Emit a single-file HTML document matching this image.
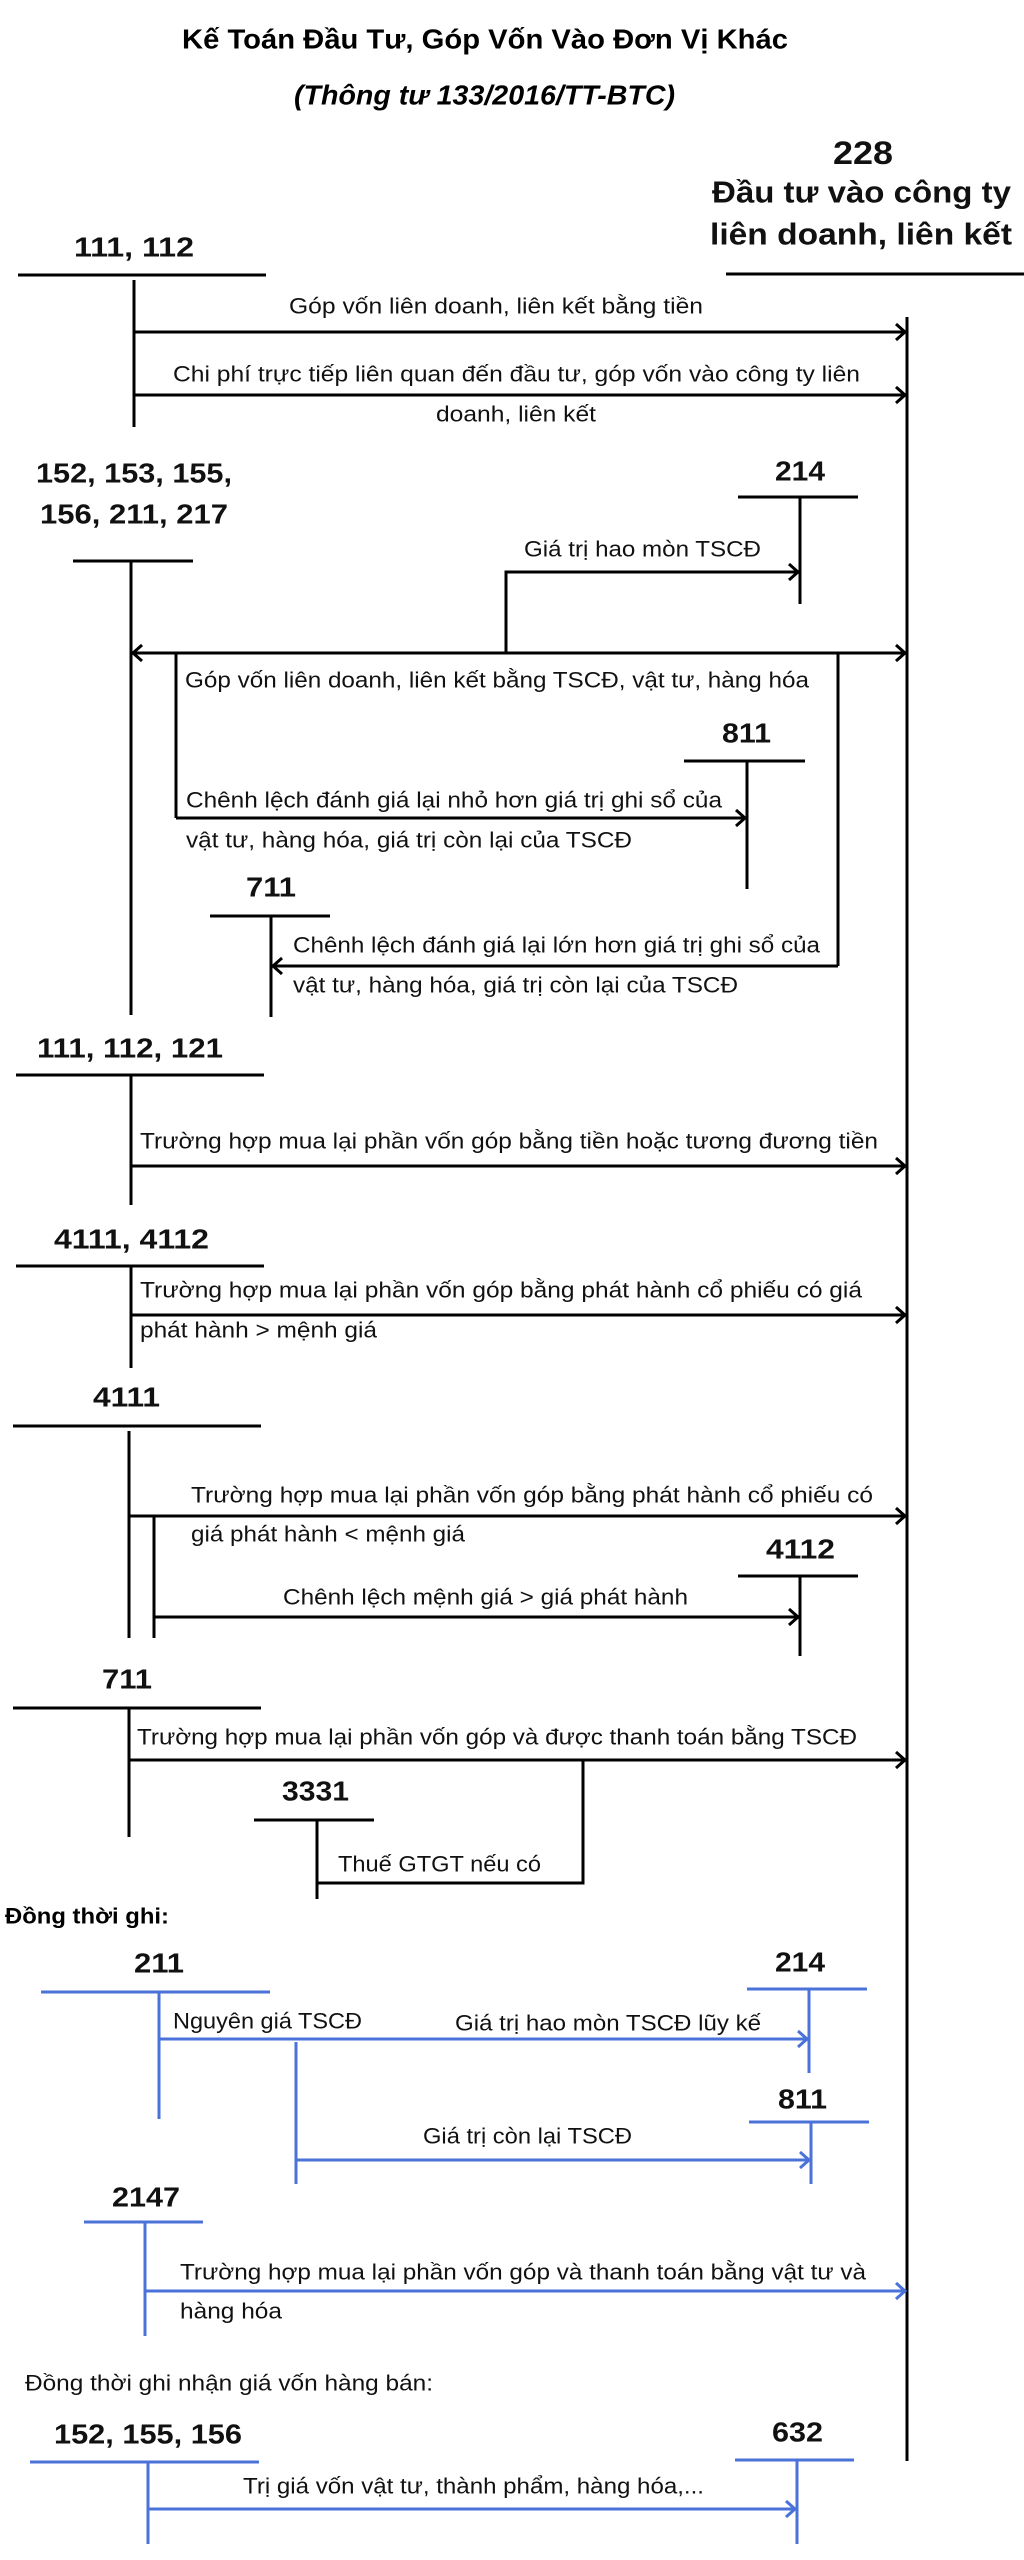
<!DOCTYPE html>
<html><head><meta charset="utf-8"><style>
html,body{margin:0;padding:0;background:#fff;}
svg{display:block;}
text{font-family:"Liberation Sans","DejaVu Sans",sans-serif;dominant-baseline:central;}
.t{font-size:22px;fill:#111;}
.b{font-size:28px;font-weight:bold;fill:#111;}
.k line,.k polyline,.k path{stroke:#000;stroke-width:3;fill:none;}
.u line,.u polyline{stroke:#4a72d9;stroke-width:3;fill:none;}
</style></head><body>
<svg width="1024" height="2560" viewBox="0 0 1024 2560" xmlns="http://www.w3.org/2000/svg">
<text x="182" y="39" textLength="606" lengthAdjust="spacingAndGlyphs" style="font-size:28px;font-weight:bold">Kế Toán Đầu Tư, Góp Vốn Vào Đơn Vị Khác</text>
<text x="294" y="95" textLength="381" lengthAdjust="spacingAndGlyphs" style="font-size:28px;font-weight:bold;font-style:italic">(Thông tư 133/2016/TT-BTC)</text>
<text class="b" x="833" y="153" textLength="60" lengthAdjust="spacingAndGlyphs" style="font-size:32px">228</text>
<text class="b" x="712" y="192" textLength="299" lengthAdjust="spacingAndGlyphs" style="font-size:31px">Đầu tư vào công ty</text>
<text class="b" x="710" y="234" textLength="302" lengthAdjust="spacingAndGlyphs" style="font-size:31px">liên doanh, liên kết</text>

<g class="k">
<line x1="726" y1="274" x2="1024" y2="274"/>
<line x1="907" y1="317" x2="907" y2="2461"/>
<line x1="18" y1="275" x2="266" y2="275"/>
<line x1="134" y1="280" x2="134" y2="427"/>
<line x1="134" y1="332" x2="905" y2="332"/><polyline points="896,324 905,332 896,340"/>
<line x1="134" y1="395" x2="905" y2="395"/><polyline points="896,387 905,395 896,403"/>
<line x1="73" y1="561" x2="193" y2="561"/>
<line x1="131" y1="561" x2="131" y2="1015"/>
<line x1="738" y1="497" x2="858" y2="497"/>
<line x1="800" y1="497" x2="800" y2="604"/>
<polyline points="506,653 506,572 798,572"/><polyline points="789,564 798,572 789,580"/>
<line x1="133" y1="653" x2="905" y2="653"/>
<polyline points="142,645 133,653 142,661"/><polyline points="896,645 905,653 896,661"/>
<line x1="176" y1="653" x2="176" y2="818"/>
<line x1="838" y1="653" x2="838" y2="966"/>
<line x1="684" y1="761" x2="805" y2="761"/>
<line x1="747" y1="761" x2="747" y2="889"/>
<line x1="176" y1="818" x2="745" y2="818"/><polyline points="736,810 745,818 736,826"/>
<line x1="210" y1="916" x2="330" y2="916"/>
<line x1="271" y1="916" x2="271" y2="1017"/>
<line x1="838" y1="966" x2="273" y2="966"/><polyline points="282,958 273,966 282,974"/>
<line x1="16" y1="1075" x2="264" y2="1075"/>
<line x1="131" y1="1075" x2="131" y2="1205"/>
<line x1="131" y1="1166" x2="905" y2="1166"/><polyline points="896,1158 905,1166 896,1174"/>
<line x1="16" y1="1266" x2="264" y2="1266"/>
<line x1="131" y1="1266" x2="131" y2="1368"/>
<line x1="131" y1="1315" x2="905" y2="1315"/><polyline points="896,1307 905,1315 896,1323"/>
<line x1="13" y1="1426" x2="261" y2="1426"/>
<line x1="129" y1="1431" x2="129" y2="1638"/>
<line x1="154" y1="1516" x2="154" y2="1638"/>
<line x1="129" y1="1516" x2="905" y2="1516"/><polyline points="896,1508 905,1516 896,1524"/>
<line x1="738" y1="1576" x2="858" y2="1576"/>
<line x1="800" y1="1576" x2="800" y2="1656"/>
<line x1="154" y1="1617" x2="798" y2="1617"/><polyline points="789,1609 798,1617 789,1625"/>
<line x1="13" y1="1708" x2="261" y2="1708"/>
<line x1="129" y1="1708" x2="129" y2="1837"/>
<line x1="129" y1="1760" x2="905" y2="1760"/><polyline points="896,1752 905,1760 896,1768"/>
<polyline points="583,1760 583,1883 317,1883"/>
<line x1="254" y1="1820" x2="374" y2="1820"/>
<line x1="317" y1="1820" x2="317" y2="1899"/>
</g>

<g style="" >
<text class="t" x="289" y="306" textLength="414" lengthAdjust="spacingAndGlyphs">Góp vốn liên doanh, liên kết bằng tiền</text>
<text class="t" x="173" y="374" textLength="687" lengthAdjust="spacingAndGlyphs">Chi phí trực tiếp liên quan đến đầu tư, góp vốn vào công ty liên</text>
<text class="t" x="436" y="414" textLength="160" lengthAdjust="spacingAndGlyphs">doanh, liên kết</text>
<text class="b" x="74" y="247" textLength="120" lengthAdjust="spacingAndGlyphs">111, 112</text>
<text class="b" x="36" y="473" textLength="196" lengthAdjust="spacingAndGlyphs">152, 153, 155,</text>
<text class="b" x="40" y="514" textLength="188" lengthAdjust="spacingAndGlyphs">156, 211, 217</text>
<text class="b" x="775" y="471" textLength="50" lengthAdjust="spacingAndGlyphs">214</text>
<text class="t" x="524" y="549" textLength="237" lengthAdjust="spacingAndGlyphs">Giá trị hao mòn TSCĐ</text>
<text class="t" x="185" y="680" textLength="624" lengthAdjust="spacingAndGlyphs">Góp vốn liên doanh, liên kết bằng TSCĐ, vật tư, hàng hóa</text>
<text class="b" x="722" y="733" textLength="49" lengthAdjust="spacingAndGlyphs">811</text>
<text class="t" x="186" y="800" textLength="536" lengthAdjust="spacingAndGlyphs">Chênh lệch đánh giá lại nhỏ hơn giá trị ghi sổ của</text>
<text class="t" x="186" y="840" textLength="446" lengthAdjust="spacingAndGlyphs">vật tư,  hàng hóa, giá trị còn lại của TSCĐ</text>
<text class="b" x="246" y="887" textLength="50" lengthAdjust="spacingAndGlyphs">711</text>
<text class="t" x="293" y="945" textLength="527" lengthAdjust="spacingAndGlyphs">Chênh lệch đánh giá lại lớn hơn giá trị ghi sổ của</text>
<text class="t" x="293" y="985" textLength="445" lengthAdjust="spacingAndGlyphs">vật tư,  hàng hóa, giá trị còn lại của TSCĐ</text>
<text class="b" x="37" y="1048" textLength="186" lengthAdjust="spacingAndGlyphs">111, 112, 121</text>
<text class="t" x="140" y="1141" textLength="738" lengthAdjust="spacingAndGlyphs">Trường hợp mua lại phần vốn góp bằng tiền hoặc tương đương tiền</text>
<text class="b" x="54" y="1239" textLength="155" lengthAdjust="spacingAndGlyphs">4111, 4112</text>
<text class="t" x="140" y="1290" textLength="722" lengthAdjust="spacingAndGlyphs">Trường hợp mua lại phần vốn góp bằng phát hành cổ phiếu có giá</text>
<text class="t" x="140" y="1330" textLength="237" lengthAdjust="spacingAndGlyphs">phát hành &gt; mệnh giá</text>
<text class="b" x="93" y="1397" textLength="67" lengthAdjust="spacingAndGlyphs">4111</text>
<text class="t" x="191" y="1495" textLength="682" lengthAdjust="spacingAndGlyphs">Trường hợp mua lại phần vốn góp bằng phát hành cổ phiếu có</text>
<text class="t" x="191" y="1534" textLength="274" lengthAdjust="spacingAndGlyphs">giá phát hành &lt; mệnh giá</text>
<text class="b" x="766" y="1549" textLength="69" lengthAdjust="spacingAndGlyphs">4112</text>
<text class="t" x="283" y="1597" textLength="405" lengthAdjust="spacingAndGlyphs">Chênh lệch mệnh giá &gt; giá phát hành</text>
<text class="b" x="102" y="1679" textLength="50" lengthAdjust="spacingAndGlyphs">711</text>
<text class="t" x="137" y="1737" textLength="720" lengthAdjust="spacingAndGlyphs">Trường hợp mua lại phần vốn góp và được thanh toán bằng TSCĐ</text>
<text class="b" x="282" y="1791" textLength="67" lengthAdjust="spacingAndGlyphs">3331</text>
<text class="t" x="338" y="1864" textLength="203" lengthAdjust="spacingAndGlyphs">Thuế GTGT nếu có</text>
<text x="5" y="1916" textLength="164" lengthAdjust="spacingAndGlyphs" style="font-size:22px;font-weight:bold">Đồng thời ghi:</text>
</g>

<g class="u">
<line x1="41" y1="1992" x2="270" y2="1992"/>
<line x1="159" y1="1992" x2="159" y2="2119"/>
<line x1="747" y1="1989" x2="867" y2="1989"/>
<line x1="809" y1="1989" x2="809" y2="2073"/>
<line x1="159" y1="2039" x2="807" y2="2039"/><polyline points="798,2031 807,2039 798,2047"/>
<line x1="296" y1="2042" x2="296" y2="2184"/>
<line x1="749" y1="2122" x2="869" y2="2122"/>
<line x1="811" y1="2122" x2="811" y2="2184"/>
<line x1="296" y1="2160" x2="809" y2="2160"/><polyline points="800,2152 809,2160 800,2168"/>
<line x1="84" y1="2222" x2="203" y2="2222"/>
<line x1="145" y1="2222" x2="145" y2="2336"/>
<line x1="145" y1="2291" x2="905" y2="2291"/><polyline points="896,2283 905,2291 896,2299"/>
<line x1="30" y1="2462" x2="259" y2="2462"/>
<line x1="148" y1="2462" x2="148" y2="2544"/>
<line x1="735" y1="2460" x2="854" y2="2460"/>
<line x1="797" y1="2460" x2="797" y2="2544"/>
<line x1="148" y1="2509" x2="795" y2="2509"/><polyline points="786,2501 795,2509 786,2517"/>
</g>
<text class="b" x="134" y="1963" textLength="50" lengthAdjust="spacingAndGlyphs">211</text>
<text class="b" x="775" y="1962" textLength="50" lengthAdjust="spacingAndGlyphs">214</text>
<text class="t" x="173" y="2021" textLength="189" lengthAdjust="spacingAndGlyphs">Nguyên giá TSCĐ</text>
<text class="t" x="455" y="2023" textLength="306" lengthAdjust="spacingAndGlyphs">Giá trị hao mòn TSCĐ lũy kế</text>
<text class="b" x="778" y="2099" textLength="49" lengthAdjust="spacingAndGlyphs">811</text>
<text class="t" x="423" y="2136" textLength="209" lengthAdjust="spacingAndGlyphs">Giá trị còn lại TSCĐ</text>
<text class="b" x="112" y="2197" textLength="68" lengthAdjust="spacingAndGlyphs">2147</text>
<text class="t" x="180" y="2272" textLength="686" lengthAdjust="spacingAndGlyphs">Trường hợp mua lại phần vốn góp và thanh toán bằng vật tư và</text>
<text class="t" x="180" y="2311" textLength="102" lengthAdjust="spacingAndGlyphs">hàng hóa</text>
<text class="t" x="25" y="2383" textLength="408" lengthAdjust="spacingAndGlyphs">Đồng thời ghi nhận giá vốn hàng bán:</text>
<text class="b" x="54" y="2434" textLength="188" lengthAdjust="spacingAndGlyphs">152, 155, 156</text>
<text class="b" x="772" y="2432" textLength="51" lengthAdjust="spacingAndGlyphs">632</text>
<text class="t" x="243" y="2486" textLength="461" lengthAdjust="spacingAndGlyphs">Trị giá vốn vật tư, thành phẩm, hàng hóa,...</text>
</svg>
</body></html>
